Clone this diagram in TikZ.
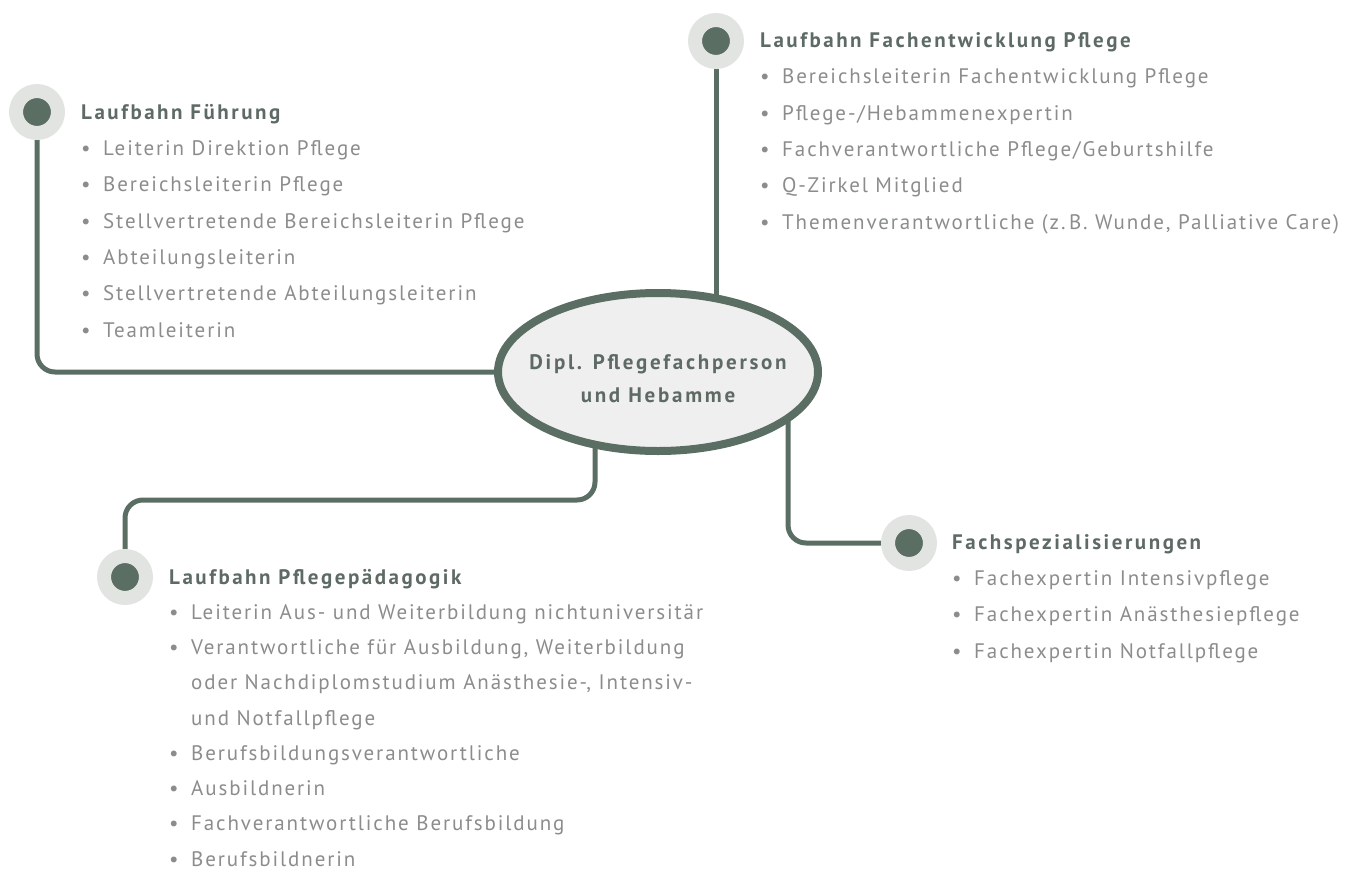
\documentclass[tikz,border=0pt]{standalone}
\usepackage{fontspec}
\setmainfont[LetterSpace=9]{PT Sans}
\usetikzlibrary{shapes.geometric,backgrounds}

\newcommand{\CMitem}[1]{\makebox[22pt][l]{\hspace{0pt}\textbullet}#1}
\newcommand{\CMcont}[1]{\hspace*{22pt}#1}
\newcommand{\CMhead}[1]{{\bfseries\addfontfeature{LetterSpace=12}\color{CMHead}#1}}

\begin{document}
\begin{tikzpicture}[x=1pt, y=-1pt]

  % ---- sizing knobs ----
  \pgfmathsetlengthmacro{\CMlinew}{5pt}     % connector width
  \pgfmathsetlengthmacro{\CMhubw}{320pt}    % hub ellipse width
  \pgfmathsetlengthmacro{\CMhubh}{158pt}    % hub ellipse height
  \pgfmathsetlengthmacro{\CMskip}{36.3pt}   % list line pitch

  \definecolor{CMLine}{HTML}{5A6E64}
  \definecolor{CMHalo}{HTML}{E2E4E2}
  \definecolor{CMFill}{HTML}{EFEFEF}
  \definecolor{CMHead}{HTML}{5E6A64}
  \definecolor{CMText}{HTML}{8A8D8B}

  \useasboundingbox (0,0) rectangle (1359,870);

  \tikzset{
    hub/.style={ellipse, draw=CMLine, line width=8pt, fill=CMFill,
      minimum width=\CMhubw, minimum height=\CMhubh,
      inner xsep=-30pt, inner ysep=0pt, text=CMHead,
      font=\fontsize{21}{33}\selectfont\bfseries\addfontfeature{LetterSpace=13}},
    knot/.style={circle, fill=CMLine, draw=CMHalo, line width=14pt,
      minimum size=42pt, inner sep=0pt},
    branch/.style={anchor=base west, align=left, inner sep=0pt,
      text=CMText, font=\fontsize{21}{\CMskip}\selectfont},
    conn/.style={draw=CMLine, line width=\CMlinew, rounded corners=18pt}
  }

  % ---- hub ----
  \node[hub] (hub) at (658,372) {\raisebox{-13pt}[0pt][0pt]{%
    \begin{tabular}{@{}c@{}}Dipl. Pflegefachperson\\und Hebamme\end{tabular}}};

  % ---- knots ----
  \node[knot] (fuehKnot) at (37,112) {};
  \node[knot] (fachKnot) at (716,41) {};
  \node[knot] (paedKnot) at (125,577) {};
  \node[knot] (spezKnot) at (909,543) {};

  \coordinate (paedBend) at (595,500);
  \coordinate (spezJoin) at (788,372);

  % ---- connectors ----
  \begin{scope}[on background layer]
    \draw[conn] (fuehKnot) |- (hub.center);
    \draw[conn] (fachKnot) -- (fachKnot |- hub.center);
    \draw[conn] (paedKnot) |- (paedBend) -- (paedBend |- hub.center);
    \draw[conn] (spezKnot) -| (spezJoin);
  \end{scope}

  % ---- branch lists (anchored at the last baseline) ----
  \node[branch] (fuehList) at (81,337) {%
    \CMhead{Laufbahn Führung}\\
    \CMitem{Leiterin Direktion Pflege}\\
    \CMitem{Bereichsleiterin Pflege}\\
    \CMitem{Stellvertretende Bereichsleiterin Pflege}\\
    \CMitem{Abteilungsleiterin}\\
    \CMitem{Stellvertretende Abteilungsleiterin}\\
    \CMitem{Teamleiterin}};

  \node[branch] (fachList) at (760,229) {%
    \CMhead{Laufbahn Fachentwicklung Pflege}\\
    \CMitem{Bereichsleiterin Fachentwicklung Pflege}\\
    \CMitem{Pflege-/Hebammenexpertin}\\
    \CMitem{Fachverantwortliche Pflege/Geburtshilfe}\\
    \CMitem{Q-Zirkel Mitglied}\\
    \CMitem{Themenverantwortliche (z.\,B. Wunde, Palliative Care)}};

  \node[branch, font=\fontsize{21}{35.25}\selectfont] (paedList) at (169,866) {%
    \CMhead{Laufbahn Pflegepädagogik}\\
    \CMitem{Leiterin Aus- und Weiterbildung nichtuniversitär}\\
    \CMitem{Verantwortliche für Ausbildung, Weiterbildung}\\
    \CMcont{oder Nachdiplomstudium Anästhesie-, Intensiv-}\\
    \CMcont{und Notfallpflege}\\
    \CMitem{Berufsbildungsverantwortliche}\\
    \CMitem{Ausbildnerin}\\
    \CMitem{Fachverantwortliche Berufsbildung}\\
    \CMitem{Berufsbildnerin}};

  \node[branch] (spezList) at (952,658) {%
    \CMhead{Fachspezialisierungen}\\
    \CMitem{Fachexpertin Intensivpflege}\\
    \CMitem{Fachexpertin Anästhesiepflege}\\
    \CMitem{Fachexpertin Notfallpflege}};

\end{tikzpicture}
\end{document}
